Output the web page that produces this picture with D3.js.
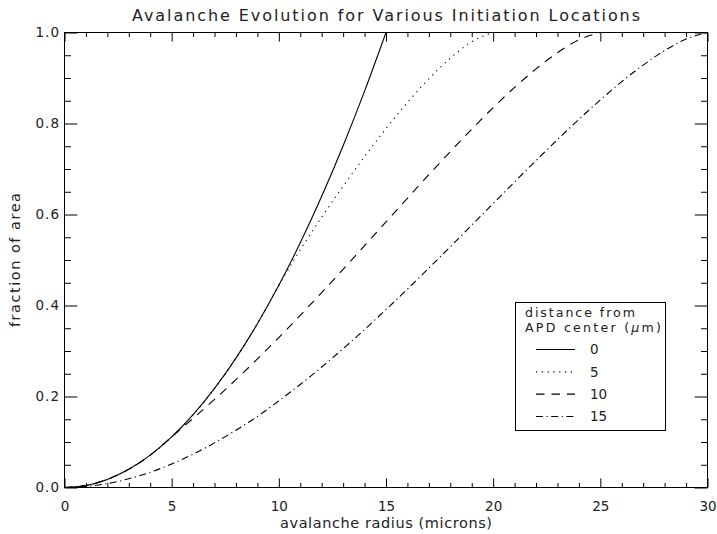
<!DOCTYPE html>
<html>
<head>
<meta charset="utf-8">
<script src="https://cdn.jsdelivr.net/npm/d3@7"></script>
<style>
  body { margin: 0; background: #fff; }
  svg text { font-family: "DejaVu Sans", sans-serif; fill: #222; }
</style>
</head>
<body>
<svg id="chart" width="717" height="534"></svg>
<script>
// Avalanche radius (microns) sampled at whole microns
const radius = [0,1,2,3,4,5,6,7,8,9,10,11,12,13,14,15,16,17,18,19,20,21,22,23,24,25,26,27,28,29,30];

// Fraction of APD area covered, by distance of the initiation point from the APD centre
const frac0 = [0,0.0044,0.0178,0.040,0.0711,0.1111,0.160,0.2178,0.2844,0.360,0.4444,
               0.5378,0.640,0.7511,0.8711,1.0];
const frac5 = [0,0.0044,0.0178,0.040,0.0711,0.1111,0.160,0.2178,0.2844,0.360,0.4444,
               0.5224,0.5940,0.6622,0.7273,0.7888,0.8461,0.8982,0.9436,0.9798,1.0];
const frac10 = [0,0.0044,0.0178,0.040,0.0711,0.1111,0.1521,0.1937,0.2372,0.2825,0.3296,
                0.3784,0.4285,0.4796,0.5314,0.5836,0.6357,0.6875,0.7382,0.7874,0.8349,
                0.8793,0.9200,0.9556,0.9840,1.0];
const frac15 = [0,0.0022,0.0086,0.0192,0.0335,0.0516,0.0732,0.0981,0.1260,0.1561,0.1904,
                0.2265,0.2648,0.3050,0.3473,0.3910,0.4361,0.4822,0.5291,0.5766,0.6242,
                0.6716,0.7186,0.7646,0.8091,0.8518,0.8920,0.9284,0.9603,0.9856,1.0];

const seriesValues = [frac0, frac5, frac10, frac15];
const distanceLabels = ["0", "5", "10", "15"];
const dashPatterns = [null, "1.2,4.6", "8.5,7", "7,3.5,1.2,3.5"];

const xMajorTicks = [0, 5, 10, 15, 20, 25, 30];
const xMinorTicks = d3.range(0, 31).filter(v => v % 5 !== 0);
const yMajorTicks = [0, 0.2, 0.4, 0.6, 0.8, 1.0];
const yMinorTicks = d3.range(0, 21).filter(i => i % 4 !== 0).map(i => i * 0.05);

const titleText = "Avalanche Evolution for Various Initiation Locations";
const xTitleText = "avalanche radius (microns)";
const yTitleText = "fraction of area";

const svg = d3.select("#chart");
const plotL = 64.5, plotR = 707.5, plotT = 32.5, plotB = 487.5;
const x = d3.scaleLinear().domain([0, 30]).range([plotL, plotR]);
const y = d3.scaleLinear().domain([0, 1]).range([plotB, plotT]);

const xTick = 0.02 * (plotB - plotT);   // tick length along the x axes
const yTick = 0.02 * (plotR - plotL);   // tick length along the y axes

function styleAxis(g) {
  g.select(".domain").remove();
  g.attr("font-family", null).attr("font-size", null);
  g.selectAll("line").attr("stroke", "#000").attr("stroke-width", 1);
  g.selectAll("text").attr("fill", "#222").attr("font-size", 13.5);
}

// bottom axis: labelled majors and minors, all pointing inward
svg.append("g").attr("transform", `translate(0,${plotB})`)
  .call(d3.axisBottom(x).tickValues(xMajorTicks).tickSize(-xTick).tickPadding(14).tickFormat(d3.format("d")))
  .call(styleAxis);
svg.append("g").attr("transform", `translate(0,${plotB})`)
  .call(d3.axisBottom(x).tickValues(xMinorTicks).tickSize(-xTick / 2).tickFormat(""))
  .call(styleAxis);
// top axis
svg.append("g").attr("transform", `translate(0,${plotT})`)
  .call(d3.axisTop(x).tickValues(xMajorTicks).tickSize(-xTick).tickFormat(""))
  .call(styleAxis);
svg.append("g").attr("transform", `translate(0,${plotT})`)
  .call(d3.axisTop(x).tickValues(xMinorTicks).tickSize(-xTick / 2).tickFormat(""))
  .call(styleAxis);
// left axis
svg.append("g").attr("transform", `translate(${plotL},0)`)
  .call(d3.axisLeft(y).tickValues(yMajorTicks).tickSize(-yTick).tickPadding(5.5).tickFormat(d3.format(".1f")))
  .call(styleAxis)
  .call(g => g.selectAll("text").attr("textLength", 23.5));
svg.append("g").attr("transform", `translate(${plotL},0)`)
  .call(d3.axisLeft(y).tickValues(yMinorTicks).tickSize(-yTick / 2).tickFormat(""))
  .call(styleAxis);
// right axis
svg.append("g").attr("transform", `translate(${plotR},0)`)
  .call(d3.axisRight(y).tickValues(yMajorTicks).tickSize(-yTick).tickFormat(""))
  .call(styleAxis);
svg.append("g").attr("transform", `translate(${plotR},0)`)
  .call(d3.axisRight(y).tickValues(yMinorTicks).tickSize(-yTick / 2).tickFormat(""))
  .call(styleAxis);

// plot frame
svg.append("rect")
  .attr("x", plotL).attr("y", plotT)
  .attr("width", plotR - plotL).attr("height", plotB - plotT)
  .attr("fill", "none").attr("stroke", "#000").attr("stroke-width", 1);

// curves
const line = d3.line()
  .x(d => x(d[0]))
  .y(d => y(d[1]))
  .curve(d3.curveMonotoneX);

seriesValues.forEach((vals, i) => {
  const pts = vals.map((v, k) => [radius[k], v]);
  svg.append("path")
    .datum(pts)
    .attr("d", line)
    .attr("fill", "none")
    .attr("stroke", "#000")
    .attr("stroke-width", 1.1)
    .attr("stroke-dasharray", dashPatterns[i]);
});

// titles
svg.append("text")
  .attr("x", (plotL + plotR) / 2).attr("y", 21)
  .attr("text-anchor", "middle")
  .attr("font-size", 16)
  .attr("textLength", 508)
  .text(titleText);

svg.append("text")
  .attr("x", (plotL + plotR) / 2).attr("y", 528)
  .attr("text-anchor", "middle")
  .attr("font-size", 14.5)
  .attr("textLength", 212)
  .text(xTitleText);

svg.append("text")
  .attr("transform", `translate(20,${(plotT + plotB) / 2}) rotate(-90)`)
  .attr("text-anchor", "middle")
  .attr("font-size", 14.5)
  .attr("textLength", 134)
  .text(yTitleText);

// legend
const legend = svg.append("g");
legend.append("rect")
  .attr("x", 515.5).attr("y", 302.5)
  .attr("width", 150).attr("height", 128)
  .attr("fill", "#fff").attr("stroke", "#000").attr("stroke-width", 1);

legend.append("text")
  .attr("x", 525).attr("y", 317)
  .attr("font-size", 12.6)
  .attr("textLength", 110)
  .text("distance from");

const head2 = legend.append("text")
  .attr("x", 525).attr("y", 332)
  .attr("font-size", 12.6)
  .attr("textLength", 136);
head2.append("tspan").text("APD center (");
head2.append("tspan").attr("font-style", "italic").text("μ");
head2.append("tspan").text("m)");

const rowY = d3.scaleLinear().domain([0, 3]).range([349.5, 416.5]);
distanceLabels.forEach((lab, i) => {
  const yy = rowY(i);
  legend.append("line")
    .attr("x1", 536).attr("x2", 575)
    .attr("y1", yy).attr("y2", yy)
    .attr("stroke", "#000").attr("stroke-width", 1.1)
    .attr("stroke-dasharray", dashPatterns[i]);
  legend.append("text")
    .attr("x", 590).attr("y", yy)
    .attr("dy", "0.36em")
    .attr("font-size", 13.5)
    .text(lab);
});
</script>
</body>
</html>
